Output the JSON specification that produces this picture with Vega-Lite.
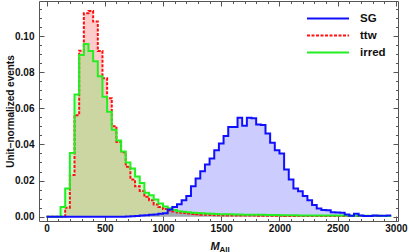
{
"$schema": "https://vega.github.io/schema/vega-lite/v6.json",
"width": 359, "height": 220,
"autosize": {"type": "none"},
"padding": {"left": 39, "top": 1, "right": 11, "bottom": 31},
"config": {
  "view": {"stroke": null},
  "font": "Liberation Sans",
  "axis": {"labelFont": "Liberation Sans", "labelFontWeight": "bold", "labelColor": "#111", "domainColor": "#555", "tickColor": "#555", "grid": false, "titleColor": "#111", "titleFont": "Liberation Sans"},
  "legend": {"symbolType": "stroke", "symbolSize": 1764, "symbolStrokeWidth": 2, "labelFontSize": 11.5, "labelFontWeight": "bold", "labelOffset": 10, "rowPadding": 0, "padding": 0, "labelFont": "Liberation Sans", "labelColor": "#111", "clipHeight": 17}
},
"data": {"values": [
{"s":"ttw","m":0,"v":0},{"s":"ttw","m":40,"v":0},{"s":"ttw","m":80,"v":0},{"s":"ttw","m":120,"v":0},{"s":"ttw","m":160,"v":0.005},{"s":"ttw","m":200,"v":0.023},{"s":"ttw","m":240,"v":0.0562},{"s":"ttw","m":280,"v":0.0919},{"s":"ttw","m":320,"v":0.1126},{"s":"ttw","m":360,"v":0.1139},{"s":"ttw","m":400,"v":0.108},{"s":"ttw","m":440,"v":0.0917},{"s":"ttw","m":480,"v":0.0766},{"s":"ttw","m":520,"v":0.0655},{"s":"ttw","m":560,"v":0.0501},{"s":"ttw","m":600,"v":0.0414},{"s":"ttw","m":640,"v":0.0357},{"s":"ttw","m":680,"v":0.0276},{"s":"ttw","m":720,"v":0.0206},{"s":"ttw","m":760,"v":0.0168},{"s":"ttw","m":800,"v":0.0142},{"s":"ttw","m":840,"v":0.011},{"s":"ttw","m":880,"v":0.0091},{"s":"ttw","m":920,"v":0.0068},{"s":"ttw","m":960,"v":0.0054},{"s":"ttw","m":1000,"v":0.0042},{"s":"ttw","m":1040,"v":0.0034},{"s":"ttw","m":1080,"v":0.0028},{"s":"ttw","m":1120,"v":0.0023},{"s":"ttw","m":1160,"v":0.002},{"s":"ttw","m":1200,"v":0.0017},{"s":"ttw","m":1240,"v":0.0015},{"s":"ttw","m":1280,"v":0.0013},{"s":"ttw","m":1320,"v":0.0011},{"s":"ttw","m":1360,"v":0.001},{"s":"ttw","m":1400,"v":0.0009},{"s":"ttw","m":1440,"v":0.0008},{"s":"ttw","m":1480,"v":0.0008},{"s":"ttw","m":1520,"v":0.0007},{"s":"ttw","m":1560,"v":0.0007},{"s":"ttw","m":1600,"v":0.0007},{"s":"ttw","m":1640,"v":0.0006},{"s":"ttw","m":1680,"v":0.0006},{"s":"ttw","m":1720,"v":0.0006},{"s":"ttw","m":1760,"v":0.0006},{"s":"ttw","m":1800,"v":0.0005},{"s":"ttw","m":1840,"v":0.0005},{"s":"ttw","m":1880,"v":0.0005},{"s":"ttw","m":1920,"v":0.0005},{"s":"ttw","m":1960,"v":0.0005},{"s":"ttw","m":2000,"v":0.0005},{"s":"ttw","m":2040,"v":0.0004},{"s":"ttw","m":2080,"v":0.0004},{"s":"ttw","m":2120,"v":0.0004},{"s":"ttw","m":2160,"v":0.0004},{"s":"ttw","m":2200,"v":0.0004},{"s":"ttw","m":2240,"v":0.0004},{"s":"ttw","m":2280,"v":0.0004},{"s":"ttw","m":2320,"v":0.0004},{"s":"ttw","m":2360,"v":0.0004},{"s":"ttw","m":2400,"v":0.0004},{"s":"ttw","m":2440,"v":0.0003},{"s":"ttw","m":2480,"v":0.0003},{"s":"ttw","m":2520,"v":0.0003},{"s":"ttw","m":2560,"v":0.0003},{"s":"ttw","m":2600,"v":0.0003},{"s":"ttw","m":2640,"v":0.0003},{"s":"ttw","m":2680,"v":0.0003},{"s":"ttw","m":2720,"v":0.0003},{"s":"ttw","m":2760,"v":0.0003},{"s":"ttw","m":2800,"v":0.0003},{"s":"ttw","m":2840,"v":0.0003},{"s":"ttw","m":2880,"v":0.0003},{"s":"ttw","m":2920,"v":0.0003},{"s":"ttw","m":2960,"v":0.0003},
{"s":"irred","m":0,"v":0},{"s":"irred","m":40,"v":0},{"s":"irred","m":80,"v":0},{"s":"irred","m":120,"v":0.0054},{"s":"irred","m":160,"v":0.0156},{"s":"irred","m":200,"v":0.0353},{"s":"irred","m":240,"v":0.0677},{"s":"irred","m":280,"v":0.0895},{"s":"irred","m":320,"v":0.0956},{"s":"irred","m":360,"v":0.0917},{"s":"irred","m":400,"v":0.0861},{"s":"irred","m":440,"v":0.0778},{"s":"irred","m":480,"v":0.0664},{"s":"irred","m":520,"v":0.0581},{"s":"irred","m":560,"v":0.0481},{"s":"irred","m":600,"v":0.0422},{"s":"irred","m":640,"v":0.0361},{"s":"irred","m":680,"v":0.03},{"s":"irred","m":720,"v":0.0267},{"s":"irred","m":760,"v":0.0222},{"s":"irred","m":800,"v":0.0186},{"s":"irred","m":840,"v":0.0132},{"s":"irred","m":880,"v":0.0119},{"s":"irred","m":920,"v":0.0095},{"s":"irred","m":960,"v":0.0073},{"s":"irred","m":1000,"v":0.0056},{"s":"irred","m":1040,"v":0.0046},{"s":"irred","m":1080,"v":0.0037},{"s":"irred","m":1120,"v":0.003},{"s":"irred","m":1160,"v":0.0027},{"s":"irred","m":1200,"v":0.0024},{"s":"irred","m":1240,"v":0.0022},{"s":"irred","m":1280,"v":0.002},{"s":"irred","m":1320,"v":0.0019},{"s":"irred","m":1360,"v":0.0017},{"s":"irred","m":1400,"v":0.0016},{"s":"irred","m":1440,"v":0.0015},{"s":"irred","m":1480,"v":0.0014},{"s":"irred","m":1520,"v":0.0013},{"s":"irred","m":1560,"v":0.0013},{"s":"irred","m":1600,"v":0.0012},{"s":"irred","m":1640,"v":0.0012},{"s":"irred","m":1680,"v":0.0011},{"s":"irred","m":1720,"v":0.0011},{"s":"irred","m":1760,"v":0.001},{"s":"irred","m":1800,"v":0.001},{"s":"irred","m":1840,"v":0.001},{"s":"irred","m":1880,"v":0.0009},{"s":"irred","m":1920,"v":0.0009},{"s":"irred","m":1960,"v":0.0009},{"s":"irred","m":2000,"v":0.0008},{"s":"irred","m":2040,"v":0.0008},{"s":"irred","m":2080,"v":0.0008},{"s":"irred","m":2120,"v":0.0008},{"s":"irred","m":2160,"v":0.0007},{"s":"irred","m":2200,"v":0.0007},{"s":"irred","m":2240,"v":0.0007},{"s":"irred","m":2280,"v":0.0007},{"s":"irred","m":2320,"v":0.0007},{"s":"irred","m":2360,"v":0.0006},{"s":"irred","m":2400,"v":0.0006},{"s":"irred","m":2440,"v":0.0006},{"s":"irred","m":2480,"v":0.0006},{"s":"irred","m":2520,"v":0.0006},{"s":"irred","m":2560,"v":0.0006},{"s":"irred","m":2600,"v":0.0005},{"s":"irred","m":2640,"v":0.0005},{"s":"irred","m":2680,"v":0.0005},{"s":"irred","m":2720,"v":0.0005},{"s":"irred","m":2760,"v":0.0005},{"s":"irred","m":2800,"v":0.0005},{"s":"irred","m":2840,"v":0.0005},{"s":"irred","m":2880,"v":0.0004},{"s":"irred","m":2920,"v":0.0004},{"s":"irred","m":2960,"v":0.0004},
{"s":"SG","m":0,"v":0},{"s":"SG","m":40,"v":0},{"s":"SG","m":80,"v":0},{"s":"SG","m":120,"v":0},{"s":"SG","m":160,"v":0},{"s":"SG","m":200,"v":0},{"s":"SG","m":240,"v":0},{"s":"SG","m":280,"v":0},{"s":"SG","m":320,"v":0},{"s":"SG","m":360,"v":0},{"s":"SG","m":400,"v":0},{"s":"SG","m":440,"v":0},{"s":"SG","m":480,"v":0},{"s":"SG","m":520,"v":0},{"s":"SG","m":560,"v":0},{"s":"SG","m":600,"v":0},{"s":"SG","m":640,"v":0},{"s":"SG","m":680,"v":0.0001},{"s":"SG","m":720,"v":0.0002},{"s":"SG","m":760,"v":0.0004},{"s":"SG","m":800,"v":0.0006},{"s":"SG","m":840,"v":0.0008},{"s":"SG","m":880,"v":0.0011},{"s":"SG","m":920,"v":0.0012},{"s":"SG","m":960,"v":0.0016},{"s":"SG","m":1000,"v":0.0019},{"s":"SG","m":1040,"v":0.004},{"s":"SG","m":1080,"v":0.0054},{"s":"SG","m":1120,"v":0.0069},{"s":"SG","m":1160,"v":0.0091},{"s":"SG","m":1200,"v":0.0115},{"s":"SG","m":1240,"v":0.0169},{"s":"SG","m":1280,"v":0.0211},{"s":"SG","m":1320,"v":0.0252},{"s":"SG","m":1360,"v":0.0289},{"s":"SG","m":1400,"v":0.0322},{"s":"SG","m":1440,"v":0.0368},{"s":"SG","m":1480,"v":0.0405},{"s":"SG","m":1520,"v":0.0446},{"s":"SG","m":1560,"v":0.0497},{"s":"SG","m":1600,"v":0.0497},{"s":"SG","m":1640,"v":0.0547},{"s":"SG","m":1680,"v":0.0503},{"s":"SG","m":1720,"v":0.0547},{"s":"SG","m":1760,"v":0.0545},{"s":"SG","m":1800,"v":0.051},{"s":"SG","m":1840,"v":0.0508},{"s":"SG","m":1880,"v":0.046},{"s":"SG","m":1920,"v":0.0409},{"s":"SG","m":1960,"v":0.0368},{"s":"SG","m":2000,"v":0.035},{"s":"SG","m":2040,"v":0.0261},{"s":"SG","m":2080,"v":0.0206},{"s":"SG","m":2120,"v":0.0156},{"s":"SG","m":2160,"v":0.0141},{"s":"SG","m":2200,"v":0.0115},{"s":"SG","m":2240,"v":0.0091},{"s":"SG","m":2280,"v":0.0064},{"s":"SG","m":2320,"v":0.0045},{"s":"SG","m":2360,"v":0.0037},{"s":"SG","m":2400,"v":0.0035},{"s":"SG","m":2440,"v":0.0025},{"s":"SG","m":2480,"v":0.0023},{"s":"SG","m":2520,"v":0.0022},{"s":"SG","m":2560,"v":0.0012},{"s":"SG","m":2600,"v":0.0005},{"s":"SG","m":2640,"v":0.0016},{"s":"SG","m":2680,"v":0.0007},{"s":"SG","m":2720,"v":0.0004},{"s":"SG","m":2760,"v":0.0004},{"s":"SG","m":2800,"v":0.0006},{"s":"SG","m":2840,"v":0.0005},{"s":"SG","m":2880,"v":0.0005},{"s":"SG","m":2920,"v":0.0006},{"s":"SG","m":2960,"v":0.0006}
]},
"layer": [
 {
  "mark": {"type": "area", "interpolate": "step-after", "fillOpacity": 0.2},
  "encoding": {
   "x": {"field": "m", "type": "quantitative", "scale": {"domain": [-65, 3018], "nice": false, "zero": false},
         "axis": {"orient": "bottom", "values": [0,500,1000,1500,2000,2500,3000], "format": "d", "ticks": false, "labelPadding": 2, "labelFontSize": 10, "domain": true,
                  "title": "M", "titleFontStyle": "italic", "titleFontWeight": "bold", "titleFontSize": 11, "titleX": 171, "titleY": 28, "titleAlign": "left", "titleBaseline": "alphabetic"}},
   "y": {"field": "v", "type": "quantitative", "stack": null, "scale": {"domain": [-0.0024, 0.1194], "nice": false, "zero": false},
         "axis": {"orient": "left", "values": [0,0.02,0.04,0.06,0.08,0.1], "format": ".2f", "ticks": false, "labelPadding": 5, "labelFontSize": 10, "domain": true,
                  "title": "Unit\u2212normalized events", "titleFontWeight": "bold", "titleFontSize": 10, "titleX": -29, "titleY": 110, "titleAngle": -90, "titleAlign": "center", "titleBaseline": "middle"}},
   "fill": {"field": "s", "type": "nominal", "scale": {"domain": ["irred","ttw","SG"], "range": ["#00ff00","#ff0000","#0000ff"]}, "legend": null}
  }
 },
 {
  "mark": {"type": "line", "interpolate": "step-after", "strokeWidth": 2},
  "encoding": {
   "x": {"field": "m", "type": "quantitative",
         "axis": {"orient": "bottom", "values": [0,100,200,300,400,500,600,700,800,900,1000,1100,1200,1300,1400,1500,1600,1700,1800,1900,2000,2100,2200,2300,2400,2500,2600,2700,2800,2900,3000], "labels": false, "domain": false, "title": null,
                  "tickSize": {"condition": {"test": "datum.value % 500 === 0", "value": -5}, "value": -2.5}}},
   "y": {"field": "v", "type": "quantitative",
         "axis": {"orient": "left", "values": [0,0.005,0.01,0.015,0.02,0.025,0.03,0.035,0.04,0.045,0.05,0.055,0.06,0.065,0.07,0.075,0.08,0.085,0.09,0.095,0.1,0.105,0.11,0.115], "labels": false, "domain": false, "title": null,
                  "tickSize": {"condition": {"test": "abs(datum.value*50 - round(datum.value*50)) < 0.000001", "value": -5}, "value": -2.5}}},
   "stroke": {"field": "s", "type": "nominal", "scale": {"domain": ["SG","ttw","irred"], "range": ["#1010ff","#ff1010","#22ee22"]},
              "legend": {"title": null, "orient": "none", "legendX": 267, "legendY": 9}},
   "strokeDash": {"field": "s", "type": "nominal", "scale": {"domain": ["SG","ttw","irred"], "range": [[1,0],[3,1.5],[1,0]]},
              "legend": {"title": null, "orient": "none", "legendX": 267, "legendY": 9}}
  }
 },
 {
  "mark": {"type": "point", "opacity": 0},
  "encoding": {
   "x": {"field": "m", "type": "quantitative",
         "axis": {"orient": "top", "values": [0,100,200,300,400,500,600,700,800,900,1000,1100,1200,1300,1400,1500,1600,1700,1800,1900,2000,2100,2200,2300,2400,2500,2600,2700,2800,2900,3000], "labels": false, "domain": true, "title": null,
                  "tickSize": {"condition": {"test": "datum.value % 500 === 0", "value": -5}, "value": -2.5}}},
   "y": {"field": "v", "type": "quantitative",
         "axis": {"orient": "right", "values": [0,0.005,0.01,0.015,0.02,0.025,0.03,0.035,0.04,0.045,0.05,0.055,0.06,0.065,0.07,0.075,0.08,0.085,0.09,0.095,0.1,0.105,0.11,0.115], "labels": false, "domain": true, "title": null,
                  "tickSize": {"condition": {"test": "abs(datum.value*50 - round(datum.value*50)) < 0.000001", "value": -5}, "value": -2.5}}}
  }
 },
 {
  "mark": {"type": "point", "opacity": 0},
  "encoding": {
   "x": {"field": "m", "type": "quantitative",
         "axis": {"orient": "bottom", "labels": false, "ticks": false, "domain": false, "title": "All", "titleFontWeight": "bold", "titleFontSize": 8, "titleX": 180, "titleY": 30, "titleAlign": "left", "titleBaseline": "alphabetic"}},
   "y": {"field": "v", "type": "quantitative", "axis": null}
  }
 }
],
"resolve": {"axis": {"x": "independent", "y": "independent"}}
}
